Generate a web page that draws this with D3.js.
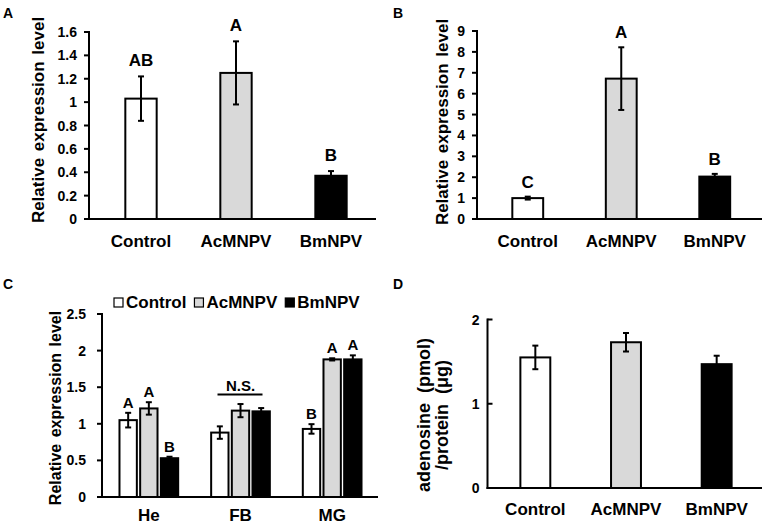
<!DOCTYPE html>
<html><head><meta charset="utf-8">
<script src="https://cdn.jsdelivr.net/npm/d3@7"></script>
<style>
body{margin:0;background:#fff;}
text{font-family:"Liberation Sans",Arial,sans-serif;font-weight:bold;fill:#000;}
</style></head>
<body><svg id="c" width="765" height="526"></svg>
<script>
// ---------- data ----------
const categories = ["Control", "AcMNPV", "BmNPV"];
const fills = ["#ffffff", "#d9d9d9", "#000000"];

const aMeans = [1.03, 1.25, 0.37];
const aErrs = [0.19, 0.27, 0.04];
const aLetters = ["AB", "A", "B"];
const aTicks = [0, 0.2, 0.4, 0.6, 0.8, 1, 1.2, 1.4, 1.6];

const bMeans = [1.0, 6.72, 2.03];
const bErrs = [0.07, 1.5, 0.13];
const bLetters = ["C", "A", "B"];
const bTicks = [0, 1, 2, 3, 4, 5, 6, 7, 8, 9];

const tissues = ["He", "FB", "MG"];
const cControl = [1.05, 0.88, 0.93];
const cAcMNPV = [1.21, 1.18, 1.88];
const cBmNPV = [0.53, 1.17, 1.88];
const cControlErr = [0.10, 0.085, 0.065];
const cAcMNPVErr = [0.085, 0.09, 0.015];
const cBmNPVErr = [0.02, 0.045, 0.055];
const cLetters = [["A", "A", "B"], null, ["B", "A", "A"]];
const cTicks = [0, 0.5, 1, 1.5, 2, 2.5];

const dMeans = [1.55, 1.73, 1.47];
const dErrs = [0.14, 0.11, 0.10];
const dTicks = [0, 1, 2];

const svg = d3.select("#c");
const fmt = d3.format("~g");

function yAxis(g, y, ticks, xAxisX, inward, gap, fs) {
  g.append("line").attr("x1", xAxisX).attr("x2", xAxisX)
    .attr("y1", y(0) + 1).attr("y2", y(ticks[ticks.length - 1]) - 1)
    .attr("stroke", "#000").attr("stroke-width", 2);
  ticks.forEach(t => {
    g.append("line").attr("x1", xAxisX).attr("x2", inward ? xAxisX + 5 : xAxisX - 5)
      .attr("y1", y(t)).attr("y2", y(t)).attr("stroke", "#000").attr("stroke-width", 2);
    g.append("text").attr("x", xAxisX - gap).attr("y", y(t)).attr("dy", "0.36em")
      .attr("text-anchor", "end").style("font-size", fs + "px").text(fmt(t));
  });
}

function errBar(g, cx, y, m, e, cap) {
  g.append("line").attr("x1", cx).attr("x2", cx).attr("y1", y(m + e)).attr("y2", y(m - e))
    .attr("stroke", "#000").attr("stroke-width", 2);
  [m + e, m - e].forEach(v => g.append("line").attr("x1", cx - cap).attr("x2", cx + cap)
    .attr("y1", y(v)).attr("y2", y(v)).attr("stroke", "#000").attr("stroke-width", 2));
}

function simplePanel(o) {
  const g = svg.append("g");
  const y = d3.scaleLinear().domain(o.domain).range([o.yBase, o.yTop]);
  const x = d3.scaleBand().domain(categories).range(o.band).paddingInner(o.pad).paddingOuter(o.pad / 2);
  categories.forEach((c, i) => {
    g.append("rect").attr("x", x(c)).attr("y", y(o.means[i]))
      .attr("width", x.bandwidth()).attr("height", y(0) - y(o.means[i]))
      .attr("fill", fills[i]).attr("stroke", "#000").attr("stroke-width", 2);
    errBar(g, x(c) + x.bandwidth() / 2, y, o.means[i], o.errs[i], 3);
    if (o.letters) g.append("text").attr("x", x(c) + x.bandwidth() / 2)
      .attr("y", y(o.means[i] + o.errs[i]) - o.lgap).attr("text-anchor", "middle")
      .style("font-size", "17px").text(o.letters[i]);
    g.append("text").attr("x", x(c) + x.bandwidth() / 2).attr("y", o.labelY)
      .attr("text-anchor", "middle").style("font-size", "17px").text(c);
  });
  g.append("line").attr("x1", o.axisX - 1).attr("x2", o.xEnd).attr("y1", y(0)).attr("y2", y(0))
    .attr("stroke", "#000").attr("stroke-width", 2);
  yAxis(g, y, o.ticks, o.axisX, o.inward, o.gap, 14);
  return {g, y, x};
}

// ---------- Panel A ----------
simplePanel({domain: [0, 1.6], yBase: 219, yTop: 32, band: [93.5, 378.5], pad: 0.67,
  means: aMeans, errs: aErrs, letters: aLetters, ticks: aTicks, axisX: 89, xEnd: 376,
  inward: false, gap: 12, lgap: 10, labelY: 247});
svg.append("text").attr("transform", "translate(38,120) rotate(-90)").attr("dy", "0.36em")
  .attr("text-anchor", "middle").style("font-size", "17px").style("word-spacing", "2px")
  .text("Relative expression level");
svg.append("text").attr("x", 3).attr("y", 18).style("font-size", "14px").text("A");

// ---------- Panel B ----------
simplePanel({domain: [0, 9], yBase: 219, yTop: 31, band: [481, 761.5], pad: 0.67,
  means: bMeans, errs: bErrs, letters: bLetters, ticks: bTicks, axisX: 477, xEnd: 762,
  inward: false, gap: 12, lgap: 9, labelY: 247});
svg.append("text").attr("transform", "translate(442,122) rotate(-90)").attr("dy", "0.36em")
  .attr("text-anchor", "middle").style("font-size", "17px").style("word-spacing", "2px")
  .text("Relative expression level");
svg.append("text").attr("x", 393).attr("y", 18).style("font-size", "14px").text("B");

// ---------- Panel C ----------
(function () {
  const g = svg.append("g");
  const y = d3.scaleLinear().domain([0, 2.5]).range([497, 314]);
  const x = d3.scaleBand().domain(tissues).range([103, 378]);
  const xi = d3.scaleBand().domain(categories).range([0, 62]).paddingInner(0.16).paddingOuter(0.08);
  const series = [cControl, cAcMNPV, cBmNPV];
  const errs = [cControlErr, cAcMNPVErr, cBmNPVErr];
  tissues.forEach((t, ti) => {
    const gx = x(t) + x.bandwidth() / 2 - 31;
    categories.forEach((c, ci) => {
      const v = series[ci][ti], e = errs[ci][ti];
      const bx = gx + xi(c);
      g.append("rect").attr("x", bx).attr("y", y(v)).attr("width", xi.bandwidth())
        .attr("height", y(0) - y(v)).attr("fill", fills[ci]).attr("stroke", "#000").attr("stroke-width", 2);
      errBar(g, bx + xi.bandwidth() / 2, y, v, e, 3);
      if (cLetters[ti]) g.append("text").attr("x", bx + xi.bandwidth() / 2).attr("y", y(v + e) - 5)
        .attr("text-anchor", "middle").style("font-size", "15px").text(cLetters[ti][ci]);
    });
    g.append("text").attr("x", x(t) + x.bandwidth() / 2).attr("y", 521).attr("text-anchor", "middle")
      .style("font-size", "17px").text(t);
  });
  const fbx = x("FB") + x.bandwidth() / 2;
  g.append("line").attr("x1", fbx - 23).attr("x2", fbx + 22).attr("y1", 394.5).attr("y2", 394.5)
    .attr("stroke", "#000").attr("stroke-width", 2);
  g.append("text").attr("x", fbx).attr("y", 391).attr("text-anchor", "middle")
    .style("font-size", "15px").text("N.S.");
  g.append("line").attr("x1", 101).attr("x2", 378).attr("y1", y(0)).attr("y2", y(0))
    .attr("stroke", "#000").attr("stroke-width", 2);
  yAxis(g, y, cTicks, 102, false, 16, 14);
  // legend
  const lg = g.append("g");
  let lx = 114;
  categories.forEach((c, i) => {
    lg.append("rect").attr("x", lx).attr("y", 298).attr("width", 9).attr("height", 9)
      .attr("fill", fills[i]).attr("stroke", "#000").attr("stroke-width", 1.2);
    const tx = lg.append("text").attr("x", lx + 12).attr("y", 307.5).style("font-size", "17px").text(c);
    lx += 12 + tx.node().getComputedTextLength() + 8;
  });
  svg.append("text").attr("transform", "translate(55,408) rotate(-90)").attr("dy", "0.36em")
    .attr("text-anchor", "middle").style("font-size", "16px").style("word-spacing", "2px")
    .text("Relative expression level");
  svg.append("text").attr("x", 3).attr("y", 289).style("font-size", "14px").text("C");
})();

// ---------- Panel D ----------
simplePanel({domain: [0, 2], yBase: 488, yTop: 319.5, band: [490, 762], pad: 0.67,
  means: dMeans, errs: dErrs, letters: null, ticks: dTicks, axisX: 487.5, xEnd: 762,
  inward: true, gap: 8, lgap: 9, labelY: 515});
svg.append("text").attr("transform", "translate(424,415) rotate(-90)").attr("dy", "0.36em")
  .attr("text-anchor", "middle").style("font-size", "18px").style("word-spacing", "5px")
  .text("adenosine (pmol)");
svg.append("text").attr("transform", "translate(442,415) rotate(-90)").attr("dy", "0.36em")
  .attr("text-anchor", "middle").style("font-size", "18px").style("word-spacing", "5px")
  .text("/protein (μg)");
svg.append("text").attr("x", 393).attr("y", 289).style("font-size", "14px").text("D");
</script></body></html>
